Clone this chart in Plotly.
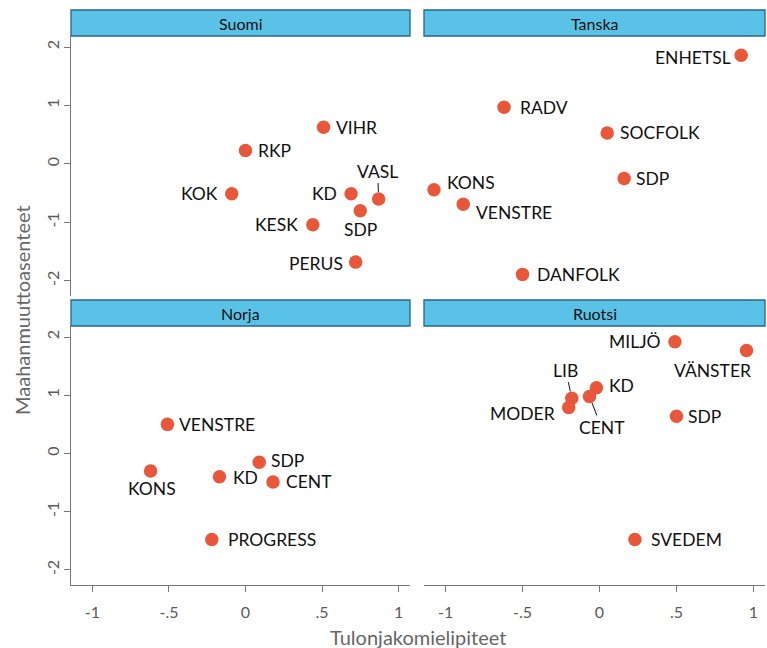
import plotly.graph_objects as go

# ---------------- data ----------------
countries = ["Suomi", "Tanska", "Norja", "Ruotsi"]

suomi_parties = ["VIHR", "RKP", "KOK", "KD", "VASL", "SDP", "KESK", "PERUS"]
suomi_x = [0.51, 0.00, -0.09, 0.69, 0.87, 0.75, 0.44, 0.72]
suomi_y = [0.63, 0.23, -0.51, -0.51, -0.60, -0.80, -1.04, -1.68]

tanska_parties = ["ENHETSL", "RADV", "SOCFOLK", "SDP", "KONS", "VENSTRE", "DANFOLK"]
tanska_x = [0.92, -0.62, 0.05, 0.16, -1.075, -0.885, -0.50]
tanska_y = [1.86, 0.97, 0.53, -0.25, -0.44, -0.69, -1.89]

norja_parties = ["VENSTRE", "KONS", "SDP", "KD", "CENT", "PROGRESS"]
norja_x = [-0.51, -0.62, 0.09, -0.17, 0.18, -0.22]
norja_y = [0.50, -0.30, -0.15, -0.40, -0.49, -1.48]

ruotsi_parties = ["MILJÖ", "VÄNSTER", "KD", "LIB", "CENT", "MODER", "SDP", "SVEDEM"]
ruotsi_x = [0.49, 0.955, -0.02, -0.18, -0.065, -0.20, 0.50, 0.23]
ruotsi_y = [1.92, 1.77, 1.13, 0.95, 0.98, 0.79, 0.64, -1.48]

x_tickvals = [-1, -0.5, 0, 0.5, 1]
x_ticktext = ["-1", "-.5", "0", ".5", "1"]
y_tickvals = [-2, -1, 0, 1, 2]
y_ticktext = ["-2", "-1", "0", "1", "2"]

x_title = "Tulonjakomielipiteet"
y_title = "Maahanmuuttoasenteet"

# ---------------- label placement (style) ----------------
# (anchor, xshift, yshift) or ("arrow", ax, ay)
label_style = {
    "Suomi": {
        "VIHR": ("left", 10, 0), "RKP": ("left", 11, 0), "KOK": ("right", -12, 0),
        "KD": ("right", -12, 0), "VASL": ("arrow", -1, -28), "SDP": ("center", 0, -19),
        "KESK": ("right", -13, 0), "PERUS": ("right", -11, -1),
    },
    "Tanska": {
        "ENHETSL": ("right", -8, -2), "RADV": ("left", 14, 0), "SOCFOLK": ("left", 11, 0),
        "SDP": ("left", 10, 0), "KONS": ("left", 11, 7), "VENSTRE": ("left", 11, -8),
        "DANFOLK": ("left", 12, 0),
    },
    "Norja": {
        "VENSTRE": ("left", 10, 0), "KONS": ("center", 1, -18), "SDP": ("left", 10, 2),
        "KD": ("left", 12, -1), "CENT": ("left", 11, 0), "PROGRESS": ("left", 14, 0),
    },
    "Ruotsi": {
        "MILJÖ": ("right", -12, 0), "VÄNSTER": ("right", 6, -20), "KD": ("left", 11, 2),
        "LIB": ("arrow", -6, -28), "CENT": ("arrow", 12, 31), "MODER": ("right", -12, -6),
        "SDP": ("left", 10, 0), "SVEDEM": ("left", 14, 0),
    },
}

data = {
    "Suomi": (suomi_parties, suomi_x, suomi_y),
    "Tanska": (tanska_parties, tanska_x, tanska_y),
    "Norja": (norja_parties, norja_x, norja_y),
    "Ruotsi": (ruotsi_parties, ruotsi_x, ruotsi_y),
}

W, H = 767, 648
FONT = "Lato, 'Open Sans', sans-serif"
DOT = "#e8573a"
AXC = "#777777"
TICKC = "#5a5a5a"
STRIP_FILL = "#5bc2e7"
STRIP_LINE = "#24678a"
LABEL_SIZE = 17.5

# panel pixel boxes: (left, right, top, bottom)
panels = {
    "Suomi": (71, 410, 36, 296),
    "Tanska": (424, 765, 36, 296),
    "Norja": (71, 410, 326, 585),
    "Ruotsi": (424, 765, 326, 585),
}
strip_h = 26

fig = go.Figure()
layout = {}
annotations = []
shapes = []

for i, c in enumerate(countries, start=1):
    xa = "x" if i == 1 else f"x{i}"
    ya = "y" if i == 1 else f"y{i}"
    l, r, t, b = panels[c]
    parties, xs, ys = data[c]
    fig.add_trace(go.Scatter(
        x=xs, y=ys, mode="markers", xaxis=xa, yaxis=ya,
        marker=dict(size=13.5, color=DOT, line=dict(width=0)),
        hoverinfo="text", text=parties, showlegend=False,
    ))
    bottom = c in ("Norja", "Ruotsi")
    left = c in ("Suomi", "Norja")
    xkey = "xaxis" if i == 1 else f"xaxis{i}"
    ykey = "yaxis" if i == 1 else f"yaxis{i}"
    layout[xkey] = dict(
        domain=[l / W, r / W], anchor=ya, range=[-1.14, 1.075],
        showgrid=False, zeroline=False,
        showline=bottom, linecolor=AXC, linewidth=1,
        ticks="outside" if bottom else "", ticklen=6, tickcolor=AXC,
        tickvals=x_tickvals, ticktext=x_ticktext, showticklabels=bottom,
        tickfont=dict(family=FONT, size=16, color=TICKC),
        ticklabelstandoff=7,
    )
    layout[ykey] = dict(
        domain=[1 - b / H, 1 - t / H], anchor=xa, range=[-2.26, 2.19],
        showgrid=False, zeroline=False,
        showline=left, linecolor=AXC, linewidth=1,
        ticks="outside" if left else "", ticklen=6, tickcolor=AXC,
        tickvals=y_tickvals, ticktext=y_ticktext, showticklabels=left,
        tickangle=-90,
        tickfont=dict(family=FONT, size=16, color=TICKC),
        ticklabelstandoff=-1,
    )
    # strip
    shapes.append(dict(type="rect", xref="paper", yref="paper",
                       x0=l / W, x1=r / W, y0=1 - t / H, y1=1 - (t - strip_h) / H,
                       fillcolor=STRIP_FILL, line=dict(color=STRIP_LINE, width=1.3), layer="above"))
    annotations.append(dict(xref="paper", yref="paper", x=(l + r) / 2 / W,
                            y=1 - (t - strip_h / 2) / H, text=c, showarrow=False,
                            xanchor="center", yanchor="middle",
                            font=dict(family=FONT, size=16, color="#111111")))
    # point labels
    for p, xv, yv in zip(parties, xs, ys):
        st = label_style[c][p]
        if st[0] == "arrow":
            annotations.append(dict(xref=xa, yref=ya, x=xv, y=yv, text=p,
                                    showarrow=True, arrowhead=0, arrowwidth=1,
                                    arrowcolor="#111111", ax=st[1], ay=st[2],
                                    standoff=7, font=dict(family=FONT, size=LABEL_SIZE, color="#111111")))
        else:
            annotations.append(dict(xref=xa, yref=ya, x=xv, y=yv, text=p,
                                    showarrow=False, xanchor=st[0], yanchor="middle",
                                    xshift=st[1], yshift=st[2],
                                    font=dict(family=FONT, size=LABEL_SIZE, color="#111111")))

annotations.append(dict(xref="paper", yref="paper", x=418 / W, y=1 - 637 / H,
                        text=x_title, showarrow=False, xanchor="center", yanchor="middle",
                        font=dict(family=FONT, size=20, color="#666666")))
annotations.append(dict(xref="paper", yref="paper", x=22 / W, y=1 - 310 / H,
                        text=y_title, showarrow=False, xanchor="center", yanchor="middle",
                        textangle=-90,
                        font=dict(family=FONT, size=20, color="#666666")))

fig.update_layout(
    width=W, height=H,
    margin=dict(l=0, r=0, t=0, b=0),
    paper_bgcolor="white", plot_bgcolor="white",
    annotations=annotations, shapes=shapes,
    **layout,
)

fig.write_html("out.html",
               config={"displayModeBar": False},
               post_script="document.body.style.margin='0';document.body.style.overflow='hidden';")
